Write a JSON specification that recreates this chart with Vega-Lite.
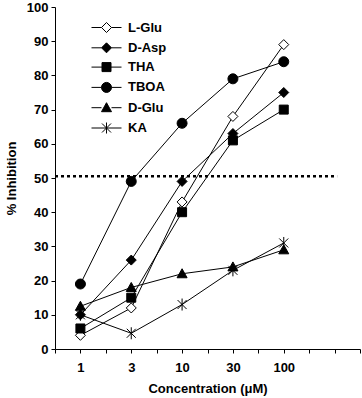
{
  "$schema": "https://vega.github.io/schema/vega-lite/v6.json",
  "width": 305,
  "height": 342,
  "autosize": {"type": "none"},
  "padding": {"left": 55, "top": 7, "right": 2, "bottom": 49},
  "config": {
    "view": {"stroke": null},
    "font": "Liberation Sans",
    "axis": {
      "grid": false,
      "domainColor": "black",
      "domainWidth": 1,
      "tickColor": "black",
      "tickWidth": 1,
      "tickSize": 4,
      "labelOverlap": false,
      "labelFont": "Liberation Sans",
      "labelFontSize": 13,
      "labelFontWeight": "bold",
      "labelColor": "black",
      "titleFont": "Liberation Sans",
      "titleFontSize": 13,
      "titleFontWeight": "bold",
      "titleColor": "black"
    }
  },
  "data": {
    "values": [
      {"series": "L-Glu", "pos": 1, "inhib": 4},
      {"series": "L-Glu", "pos": 2, "inhib": 12},
      {"series": "L-Glu", "pos": 3, "inhib": 43},
      {"series": "L-Glu", "pos": 4, "inhib": 68},
      {"series": "L-Glu", "pos": 5, "inhib": 89},
      {"series": "D-Asp", "pos": 1, "inhib": 10},
      {"series": "D-Asp", "pos": 2, "inhib": 26},
      {"series": "D-Asp", "pos": 3, "inhib": 49},
      {"series": "D-Asp", "pos": 4, "inhib": 63},
      {"series": "D-Asp", "pos": 5, "inhib": 75},
      {"series": "THA", "pos": 1, "inhib": 6},
      {"series": "THA", "pos": 2, "inhib": 15},
      {"series": "THA", "pos": 3, "inhib": 40},
      {"series": "THA", "pos": 4, "inhib": 61},
      {"series": "THA", "pos": 5, "inhib": 70},
      {"series": "TBOA", "pos": 1, "inhib": 19},
      {"series": "TBOA", "pos": 2, "inhib": 49},
      {"series": "TBOA", "pos": 3, "inhib": 66},
      {"series": "TBOA", "pos": 4, "inhib": 79},
      {"series": "TBOA", "pos": 5, "inhib": 84},
      {"series": "D-Glu", "pos": 1, "inhib": 12.5},
      {"series": "D-Glu", "pos": 2, "inhib": 18},
      {"series": "D-Glu", "pos": 3, "inhib": 22},
      {"series": "D-Glu", "pos": 4, "inhib": 24},
      {"series": "D-Glu", "pos": 5, "inhib": 29},
      {"series": "KA", "pos": 1, "inhib": 10},
      {"series": "KA", "pos": 2, "inhib": 4.6},
      {"series": "KA", "pos": 3, "inhib": 13},
      {"series": "KA", "pos": 4, "inhib": 23},
      {"series": "KA", "pos": 5, "inhib": 31}
    ]
  },
  "resolve": {
    "scale": {"shape": "independent", "fill": "independent"},
    "legend": {"shape": "independent", "fill": "independent"}
  },
  "layer": [
    {
      "data": {"values": [{"pos": 0.5, "pos_end": 6.05, "inhib": 50.5}]},
      "mark": {"type": "rule", "color": "black", "strokeWidth": 2.5, "strokeDash": [3, 3]},
      "encoding": {
        "x": {"field": "pos", "type": "quantitative", "scale": {"domain": [0.5, 6.5], "nice": false, "zero": false}},
        "x2": {"field": "pos_end"},
        "y": {"field": "inhib", "type": "quantitative", "scale": {"domain": [0, 100], "nice": false}}
      }
    },
    {
      "mark": {"type": "line", "color": "black", "strokeWidth": 1},
      "encoding": {
        "x": {
          "field": "pos", "type": "quantitative",
          "scale": {"domain": [0.5, 6.5], "nice": false, "zero": false},
          "axis": {
            "title": "Concentration (μM)",
            "values": [0.5, 1, 1.5, 2, 2.5, 3, 3.5, 4, 4.5, 5, 5.5, 6, 6.5],
            "tickCount": 20,
            "labelExpr": "datum.value==1?'1':datum.value==2?'3':datum.value==3?'10':datum.value==4?'30':datum.value==5?'100':''",
            "labelPadding": 8,
            "titlePadding": 8,
            "labelFlush": false,
            "labelOverlap": false
          }
        },
        "y": {
          "field": "inhib", "type": "quantitative",
          "scale": {"domain": [0, 100], "nice": false},
          "axis": {
            "title": "% Inhibition",
            "values": [0, 10, 20, 30, 40, 50, 60, 70, 80, 90, 100],
            "tickCount": 20,
            "labelPadding": 3,
            "titlePadding": 8,
            "labelOverlap": false
          }
        },
        "detail": {"field": "series"},
        "order": {"field": "pos"}
      }
    },
    {
      "mark": {"type": "point", "size": 100, "stroke": "black", "strokeWidth": 1, "opacity": 1, "fillOpacity": 1, "strokeOpacity": 1},
      "encoding": {
        "x": {"field": "pos", "type": "quantitative"},
        "y": {"field": "inhib", "type": "quantitative"},
        "shape": {
          "field": "series", "type": "nominal",
          "scale": {
            "domain": ["L-Glu", "D-Asp", "THA", "TBOA", "D-Glu", "KA"],
            "range": [
              "M0,-1L1,0L0,1L-1,0Z",
              "M0,-1L1,0L0,1L-1,0Z",
              "M-0.9,-0.9H0.9V0.9H-0.9Z",
              "circle",
              "M0,-1L1,0.8L-1,0.8Z",
              "M-0.9,-0.9L0.9,0.9M-0.9,0.9L0.9,-0.9M0,-1.2V1.2"
            ]
          },
          "legend": null
        },
        "fill": {
          "field": "series", "type": "nominal",
          "scale": {
            "domain": ["L-Glu", "D-Asp", "THA", "TBOA", "D-Glu", "KA"],
            "range": ["white", "black", "black", "black", "black", "black"]
          },
          "legend": null
        }
      }
    },
    {
      "transform": [{"filter": "false"}],
      "mark": {"type": "point", "size": 100, "stroke": "black", "strokeWidth": 1, "opacity": 1, "fillOpacity": 1, "strokeOpacity": 1},
      "encoding": {
        "x": {"field": "pos", "type": "quantitative"},
        "y": {"field": "inhib", "type": "quantitative"},
        "shape": {
          "field": "series", "type": "nominal",
          "scale": {
            "domain": ["L-Glu", "D-Asp", "THA", "TBOA", "D-Glu", "KA"],
            "range": [
              "M-3,0H-1M1,0H3M0,-1L1,0L0,1L-1,0Z",
              "M-3,0H-1M1,0H3M0,-1L1,0L0,1L-1,0Z",
              "M-3,0H-0.9M0.9,0H3M-0.9,-0.9H0.9V0.9H-0.9Z",
              "M-3,0H-1M1,0H3M-1,0A1,1 0 1,0 1,0A1,1 0 1,0 -1,0Z",
              "M-3,0H-1M1,0H3M0,-1L1,0.8L-1,0.8Z",
              "M-3,0H3M-0.9,-0.9L0.9,0.9M-0.9,0.9L0.9,-0.9M0,-1.1V1.1"
            ]
          },
          "legend": {
            "orient": "none",
            "legendX": 45,
            "legendY": 14,
            "title": null,
            "labelFont": "Liberation Sans",
            "labelFontSize": 13,
            "labelFontWeight": "bold",
            "labelColor": "black",
            "symbolSize": 100,
            "symbolStrokeWidth": 1,
            "labelOffset": 15,
            "rowPadding": 5.3
          }
        },
        "fill": {
          "field": "series", "type": "nominal",
          "scale": {
            "domain": ["L-Glu", "D-Asp", "THA", "TBOA", "D-Glu", "KA"],
            "range": ["white", "black", "black", "black", "black", "black"]
          },
          "legend": null
        }
      }
    }
  ]
}
